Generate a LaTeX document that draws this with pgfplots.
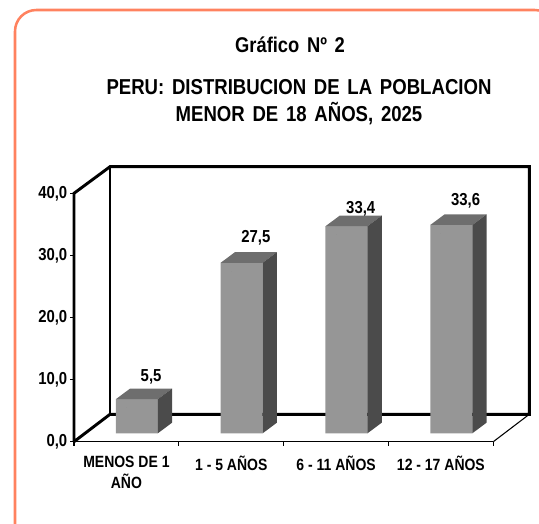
\documentclass[border=0pt]{standalone}
\usepackage{fontspec}
\setmainfont{Liberation Sans}[FakeStretch=0.86]
\newfontfamily\titlefont{Liberation Sans}[FakeStretch=0.86,WordSpace=1.5]
\usepackage{pgfplots}
\usepackage{pgfplotstable}
\pgfplotsset{compat=1.18}
\definecolor{frameC}{HTML}{FF825F}
\definecolor{frontC}{HTML}{969696}
\definecolor{topC}{HTML}{6E6E6E}
\definecolor{sideC}{HTML}{4B4B4B}
\pgfplotstableread{
x y dy
0.5 5.5 0
1.5 27.5 2
2.5 33.4 -3
3.5 33.6 2
}\datatable
\begin{document}
\begin{tikzpicture}[x=0.75pt,y=-0.75pt]
\useasboundingbox (0,0) rectangle (539,524);
\begin{scope}
\clip (0,0) rectangle (539,524);
\draw[frameC,line width=1.9pt,rounded corners=16pt] (15,10) rectangle (556,545);
\end{scope}
\node[font=\titlefont\bfseries\fontsize{16}{18}\selectfont] at (290,45) {Gráfico Nº 2};
\node[font=\titlefont\bfseries\fontsize{16.2}{18}\selectfont] at (299,87) {PERU: DISTRIBUCION DE LA POBLACION};
\node[font=\titlefont\bfseries\fontsize{16.2}{18}\selectfont] at (299,114) {MENOR DE 18 AÑOS, 2025};
% walls
\draw[black,line width=2.2pt,line join=miter] (74,441.7) -- (74,193.3) -- (110,166.7) -- (529.3,166.7) -- (529.3,414.3) -- (110,414.3) -- (74,441.7);
\draw[black,line width=2.2pt] (110,166.7) -- (110,414.3);
\draw[black,line width=0.8pt] (493.3,441.7) -- (529.3,414.3);
\begin{axis}[
  at={(55.5pt,-331.275pt)}, anchor=south west,
  scale only axis, width=314.5pt, height=186pt,
  xmin=0, xmax=4, ymin=0, ymax=40,
  axis x line=bottom, axis y line=left,
  axis line style={-},
  x axis line style={line width=1pt},
  y axis line style={line width=2.2pt},
  every outer y axis line/.append style={line width=2.2pt},
  clip=false,
  xtick={0,1,2,3,4}, xticklabels={},
  extra x ticks={0.5,1.5,2.5,3.5},
  extra x tick style={major tick length=0pt},
  extra x tick labels={{MENOS DE 1\\AÑO},{1 - 5 AÑOS},{6 - 11 AÑOS},{12 - 17 AÑOS}},
  x tick label style={font=\bfseries\fontsize{12.2}{16}\selectfont, align=center, anchor=north, yshift=-7pt, text depth=0pt},
  ytick={0,10,20,30,40},
  y tick label style={font=\bfseries\fontsize{13}{14}\selectfont, xshift=1.5pt},
  tick align=outside, major tick length=3pt,
  tick style={black,line width=0.8pt},
  /pgf/number format/.cd, fixed, fixed zerofill, precision=1, use comma, assume math mode=true,
]
\addplot[ybar, bar width=31.5pt, bar shift=7.8pt, yshift=6.3pt, fill=frontC, draw=none] table[x=x,y=y] {\datatable};
\addplot[scatter, only marks, mark=*, mark size=0pt, draw opacity=0,
  visualization depends on={y\as\val},
  scatter/@pre marker code/.code={%
    \pgfmathsetlengthmacro\hh{\val*4.65}%
    \fill[topC] (-7.95pt,6.3pt) -- (23.55pt,6.3pt) -- (34.3pt,14.3pt) -- (2.8pt,14.3pt) -- cycle;
    \fill[sideC] (23.55pt,6.3pt) -- (34.3pt,14.3pt) -- (34.3pt,14.3pt-\hh) -- (23.55pt,6.3pt-\hh) -- cycle;},
  scatter/@post marker code/.code={},
] table[x=x,y=y] {\datatable};
\addplot[only marks, mark=none, draw=none,
  visualization depends on={\thisrow{dy}\as\dyy},
  nodes near coords,
  nodes near coords style={font=\bfseries\fontsize{13}{14}\selectfont, anchor=south, xshift=18.5pt, yshift=17pt+\dyy pt, inner sep=0pt},
] table[x=x,y=y] {\datatable};
\end{axis}
\end{tikzpicture}
\end{document}
